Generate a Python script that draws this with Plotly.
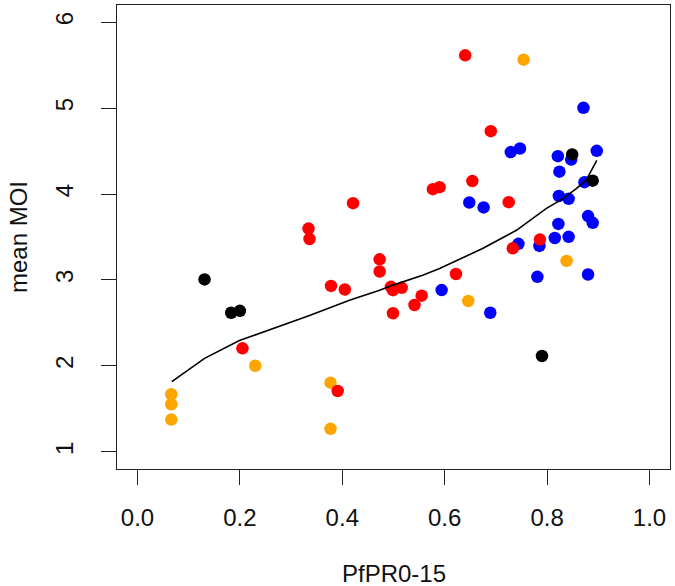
import plotly.graph_objects as go

# Data
blue_x = [0.871, 0.729, 0.747, 0.821, 0.847, 0.897, 0.824, 0.873, 0.648, 0.676, 0.823, 0.842,
          0.880, 0.889, 0.822, 0.815, 0.842, 0.744, 0.785, 0.781, 0.880, 0.594, 0.689]
blue_y = [5.003, 4.488, 4.530, 4.441, 4.401, 4.503, 4.260, 4.138, 3.902, 3.844, 3.977, 3.944,
          3.743, 3.665, 3.652, 3.488, 3.502, 3.420, 3.396, 3.036, 3.064, 2.882, 2.618]

orange_x = [0.754, 0.838, 0.646, 0.230, 0.377, 0.066, 0.066, 0.066, 0.377]
orange_y = [5.564, 3.222, 2.755, 2.002, 1.805, 1.670, 1.554, 1.375, 1.267]

red_x = [0.640, 0.690, 0.421, 0.334, 0.336, 0.577, 0.590, 0.654, 0.725, 0.786, 0.733, 0.473,
         0.473, 0.495, 0.499, 0.516, 0.622, 0.555, 0.541, 0.499, 0.378, 0.405, 0.205, 0.391]
red_y = [5.614, 4.732, 3.894, 3.598, 3.477, 4.057, 4.080, 4.151, 3.905, 3.470, 3.368, 3.240,
         3.098, 2.920, 2.881, 2.908, 3.069, 2.817, 2.709, 2.613, 2.931, 2.889, 2.204, 1.708]

black_x = [0.849, 0.889, 0.131, 0.183, 0.200, 0.790]
black_y = [4.461, 4.156, 3.006, 2.618, 2.641, 2.115]

fit_x = [0.067, 0.131, 0.199, 0.258, 0.336, 0.414, 0.473, 0.499, 0.512, 0.557, 0.590,
         0.674, 0.740, 0.798, 0.831, 0.857, 0.876, 0.897]
fit_y = [1.817, 2.088, 2.295, 2.417, 2.585, 2.765, 2.880, 2.940, 2.966, 3.056, 3.133,
         3.366, 3.578, 3.830, 3.946, 4.062, 4.159, 4.391]

x_ticks = [0.0, 0.2, 0.4, 0.6, 0.8, 1.0]
x_ticklabels = ["0.0", "0.2", "0.4", "0.6", "0.8", "1.0"]
y_ticks = [1, 2, 3, 4, 5, 6]
y_ticklabels = ["1", "2", "3", "4", "5", "6"]

FONT = "Liberation Sans, Arial, sans-serif"
FS = 24

fig = go.Figure()
for xs, ys, col in [(blue_x, blue_y, "#0000FF"), (orange_x, orange_y, "#FFA500"),
                    (red_x, red_y, "#FF0000"), (black_x, black_y, "#000000")]:
    fig.add_trace(go.Scatter(x=xs, y=ys, mode="markers",
                             marker=dict(color=col, size=12.5, line=dict(width=0)),
                             showlegend=False))
fig.add_trace(go.Scatter(x=fit_x, y=fit_y, mode="lines",
                         line=dict(color="black", width=1.6), showlegend=False))

axis_common = dict(showgrid=False, zeroline=False, showline=True, mirror=True,
                   automargin=False,
                   linecolor="#222222", linewidth=1.3, ticks="outside", ticklen=15,
                   tickwidth=1.3, tickcolor="#222222",
                   tickfont=dict(family=FONT, size=FS, color="#111111"))

fig.update_xaxes(range=[-0.04, 1.04], tickvals=x_ticks, ticktext=x_ticklabels,
                 ticklabelstandoff=12, **axis_common)
fig.update_yaxes(range=[0.8, 6.2], tickvals=y_ticks, ticktext=y_ticklabels,
                 tickangle=-90, ticklabelstandoff=18, **axis_common)

fig.add_annotation(text="PfPR0-15", xref="paper", yref="paper", x=0.5, y=0,
                   xanchor="center", yanchor="middle", yshift=-104, showarrow=False,
                   font=dict(family=FONT, size=FS, color="#111111"))
fig.add_annotation(text="mean MOI", xref="paper", yref="paper", x=0, y=0.5,
                   xanchor="center", yanchor="middle", xshift=-99, textangle=-90,
                   showarrow=False, font=dict(family=FONT, size=FS, color="#111111"))

fig.update_layout(template="none", width=675, height=586,
                  margin=dict(l=117, r=5, t=5, b=117, autoexpand=False),
                  plot_bgcolor="white", paper_bgcolor="white")

fig.write_html("out.html", config={"displayModeBar": False},
               post_script="document.body.style.margin='0';document.body.style.padding='0';")
